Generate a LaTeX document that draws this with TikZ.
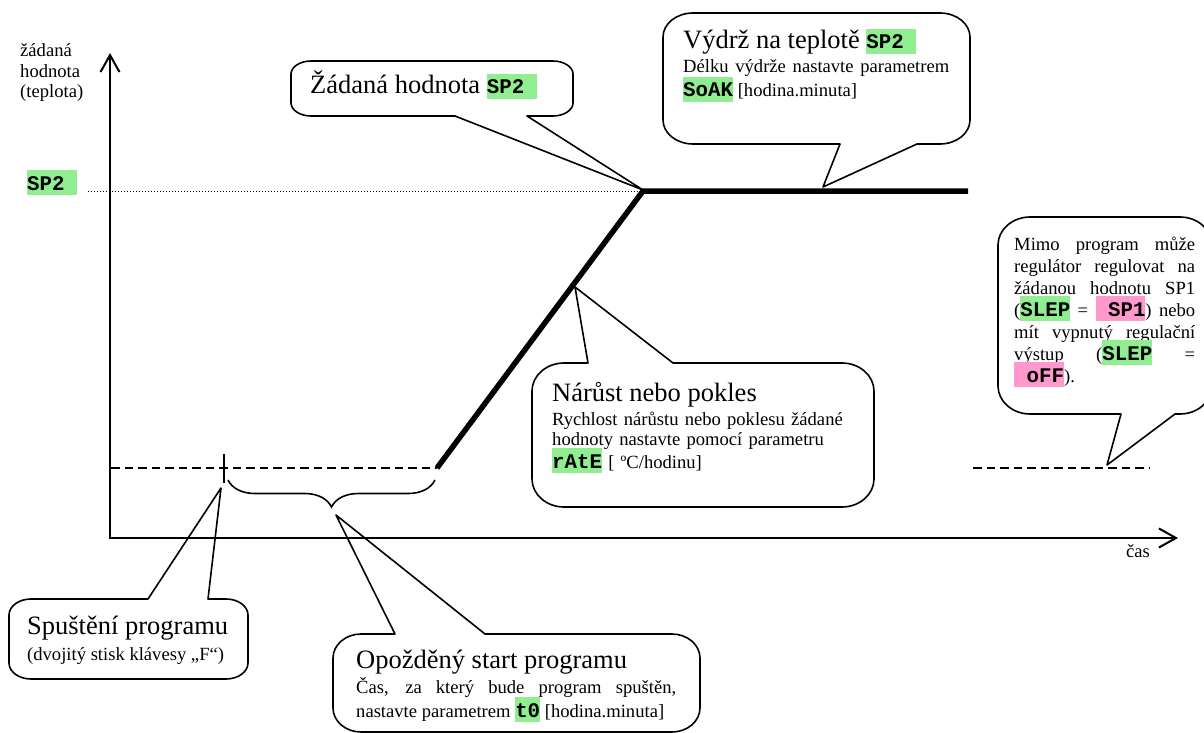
\documentclass[tikz,border=0pt]{standalone}
\usepackage{fontspec}
\setmainfont{Liberation Serif}
\newfontfamily\monofnt{Liberation Mono}
\usetikzlibrary{arrows.meta,decorations.pathreplacing}
\definecolor{hlgreen}{RGB}{144,238,144}
\definecolor{hlpink}{RGB}{255,153,204}
\newcommand\hlbox[2]{{\setlength{\fboxsep}{0pt}\smash{\colorbox{#1}{\rule[-5pt]{0pt}{25pt}\monofnt\bfseries\fontsize{20.8pt}{22pt}\selectfont #2}}}}
\newcommand\hg[1]{\hlbox{hlgreen}{#1}}
\newcommand\hp[1]{\hlbox{hlpink}{#1}}
\newcommand\smallfs{\fontsize{18.6pt}{22pt}\selectfont}
\newcommand\bigfs{\fontsize{26.5pt}{30pt}\selectfont}
\hyphenpenalty=10000 \exhyphenpenalty=10000
\tikzset{
  txt/.style={inner sep=0pt, anchor=base west},
  callout/.style={draw, line width=1.6pt, line join=round},
  axis/.style={line width=2pt, {Straight Barb[length=17pt,width=19pt]}-{Straight Barb[length=17pt,width=19pt]}},
  thickline/.style={line width=5.5pt, line join=miter},
  dashline/.style={line width=1.3pt, dash pattern=on 8.5pt off 5pt},
  dotline/.style={line width=1pt, dash pattern=on 1pt off 2pt},
}
\begin{document}
\begin{tikzpicture}[x=1pt,y=-1pt]
\useasboundingbox (0,0) rectangle (1204,733);
% coordinates
\coordinate (ytop) at (110,53);
\coordinate (orig) at (110,538);
\coordinate (xend) at (1178,538);
\coordinate (rampStart) at (437,468);
\coordinate (sp2corner) at (643,191);
\coordinate (soakEnd) at (968,191);
\coordinate (dashL) at (111,468);
\coordinate (dotL) at (88,191);
\coordinate (dashR1) at (973,468);
\coordinate (dashR2) at (1150,468);
\coordinate (tickT) at (224,454);
\coordinate (tickB) at (224,483);
\coordinate (braceR) at (435,480);
\coordinate (braceL) at (228,480);
\coordinate (tipA) at (643,190);
\coordinate (tipB) at (823,187);
\coordinate (tipC) at (1107,465);
\coordinate (tipD) at (575,287);
\coordinate (tipE) at (221,488);
\coordinate (tipF) at (336,515);

% axes
\draw[axis] (ytop) -- (orig) -- (xend);
% lines
\draw[dotline] (dotL) -- (sp2corner);
\draw[dashline] (dashL) -- (rampStart);
\draw[dashline] (dashR1) -- (dashR2);
\draw[thickline] (rampStart) -- (sp2corner) -- (soakEnd);
\draw[line width=2pt] (tickT) -- (tickB);
\draw[line width=1.6pt, decorate, decoration={brace, amplitude=27pt}] (braceR) -- (braceL);

% labels
\node[txt, text width=100pt, align=left, font=\fontsize{18.6pt}{20.3pt}\selectfont] (ylabel) at (20,57) {žádaná\\hodnota\\(teplota)};
\node[txt] (sp2lbl) at (27,190) {\hg{SP2\ }};
\node[txt, font=\smallfs] (caslbl) at (1126,557) {čas};

% callout A
\draw[callout] (311,61) -- (553,61) .. controls +(11,0) and +(0,-7) .. (573,74) -- (573,103) .. controls +(0,7) and +(11,0) .. (553,116) -- (527,116) -- (tipA) -- (455,116) -- (311,116) .. controls +(-11,0) and +(0,7) .. (291,103) -- (291,74) .. controls +(0,-7) and +(-11,0) .. (311,61) -- cycle;
\node[txt, font=\bigfs] (tA) at (310,94) {Žádaná hodnota \hg{SP2\ }};

% callout B
\draw[callout] (693,13) -- (940,13) .. controls +(16.5,0) and +(0,-13.2) .. (970,37) -- (970,120) .. controls +(0,13.2) and +(16.5,0) .. (940,144) -- (917,144) -- (tipB) -- (840,144) -- (693,144) .. controls +(-16.5,0) and +(0,13.2) .. (663,120) -- (663,37) .. controls +(0,-13.2) and +(-16.5,0) .. (693,13) -- cycle;
\node[txt, font=\bigfs] (tB) at (683,49) {Výdrž na teplotě \hg{SP2\ }};
\node[txt, text width=266pt, align=justify, font=\fontsize{18.6pt}{24pt}\selectfont] (bB) at (683,73) {Délku výdrže nastavte parametrem\linebreak \hg{SoAK} [hodina.minuta]};

% callout C
\draw[callout] (1030,217) -- (1180,217) .. controls +(17.6,0) and +(0,-15.4) .. (1212,245) -- (1212,386) .. controls +(0,15.4) and +(17.6,0) .. (1180,414) -- (1175,414) -- (tipC) -- (1121,414) -- (1030,414) .. controls +(-17.6,0) and +(0,15.4) .. (998,386) -- (998,245) .. controls +(0,-15.4) and +(-17.6,0) .. (1030,217) -- cycle;
\node[txt, text width=181pt, align=justify, font=\smallfs] (bC) at (1014,250) {Mimo program může\linebreak regulátor regulovat na\linebreak žádanou hodnotu SP1\linebreak (\hg{SLEP} = \hp{\ SP1}) nebo\linebreak mít vypnutý regulační\linebreak výstup (\hg{SLEP} =\linebreak \hp{\ oFF}).};

% callout D
\draw[callout] (564,363) -- (588,363) -- (tipD) -- (673,363) -- (842,363) .. controls +(17.6,0) and +(0,-15.4) .. (874,391) -- (874,479) .. controls +(0,15.4) and +(17.6,0) .. (842,507) -- (564,507) .. controls +(-17.6,0) and +(0,15.4) .. (532,479) -- (532,391) .. controls +(0,-15.4) and +(-17.6,0) .. (564,363) -- cycle;
\node[txt, font=\bigfs] (tD) at (552,401) {Nárůst nebo pokles};
\node[txt, text width=300pt, align=left, font=\fontsize{18.6pt}{20.5pt}\selectfont] (bD) at (552,425) {Rychlost nárůstu nebo poklesu žádané\\hodnoty nastavte pomocí parametru\\[2pt]\hg{rAtE} [ ºC/hodinu]};

% callout E
\draw[callout] (31,599) -- (148,599) -- (tipE) -- (208,599) -- (226,599) .. controls +(12.1,0) and +(0,-8.8) .. (248,615) -- (248,663) .. controls +(0,8.8) and +(12.1,0) .. (226,679) -- (31,679) .. controls +(-12.1,0) and +(0,8.8) .. (9,663) -- (9,615) .. controls +(0,-8.8) and +(-12.1,0) .. (31,599) -- cycle;
\node[txt, font=\bigfs] (tE) at (27,634) {Spuštění programu};
\node[txt, font=\smallfs] (bE) at (27,660) {(dvojitý stisk klávesy „F“)};

% callout F
\draw[callout] (361,634) -- (395,634) -- (tipF) -- (485,634) -- (672,634) .. controls +(15.4,0) and +(0,-13.2) .. (700,658) -- (700,708) .. controls +(0,13.2) and +(15.4,0) .. (672,732) -- (361,732) .. controls +(-15.4,0) and +(0,13.2) .. (333,708) -- (333,658) .. controls +(0,-13.2) and +(-15.4,0) .. (361,634) -- cycle;
\node[txt, font=\bigfs] (tF) at (356,668) {Opožděný start programu};
\node[txt, text width=320pt, align=justify, font=\fontsize{18.6pt}{24pt}\selectfont] (bF) at (356,693) {Čas, za který bude program spuštěn,\linebreak nastavte parametrem \hg{t0} [hodina.minuta]};
\end{tikzpicture}
\end{document}
